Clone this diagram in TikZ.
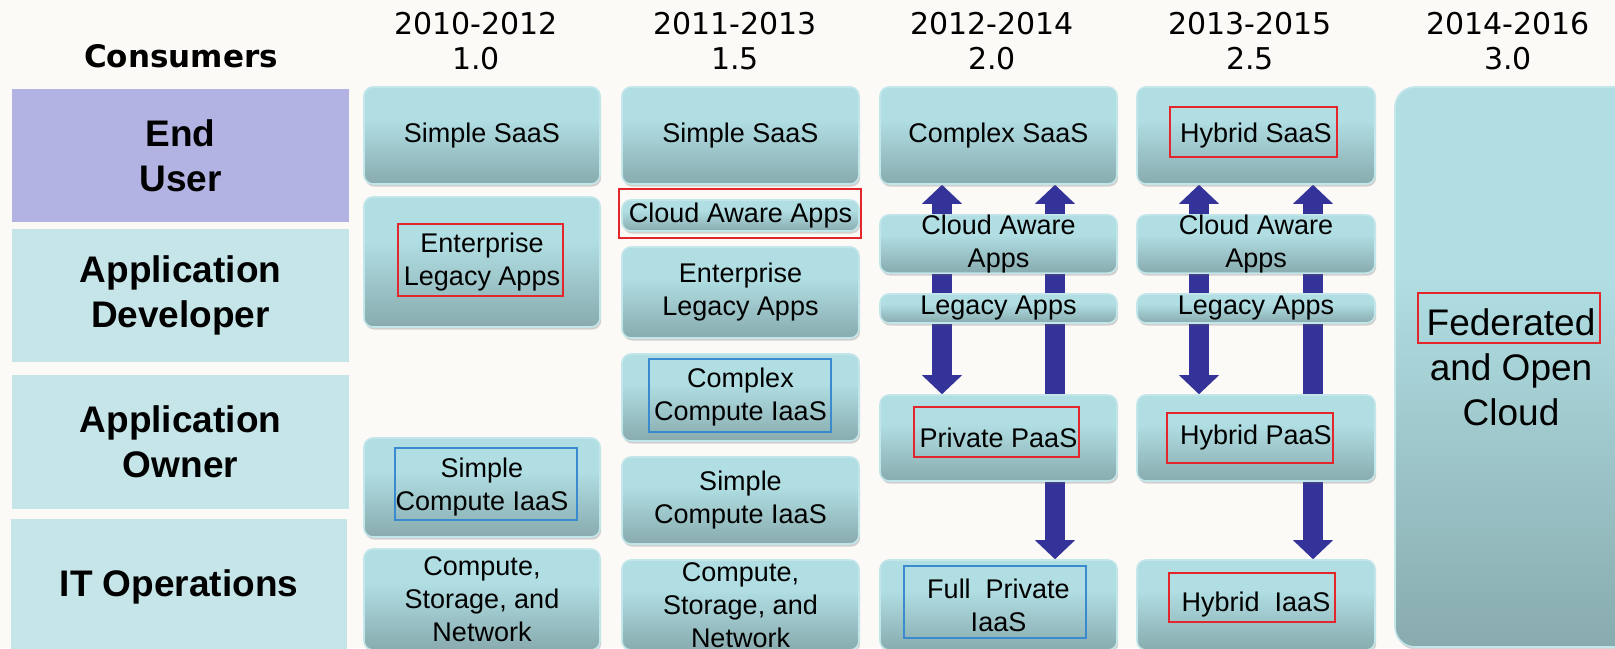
\documentclass[tikz,border=0pt]{standalone}
\usepackage{fontspec}
\setmainfont{Liberation Sans}
\newfontfamily\hdrfont{DejaVu Sans}
\usetikzlibrary{fit,shadows,arrows.meta}

\definecolor{pagebg}{HTML}{FCFAF7}
\definecolor{boxtop}{HTML}{B0DEE3}
\definecolor{boxbot}{HTML}{88ABAE}
\definecolor{boxedge}{HTML}{C3E6EA}
\definecolor{userfill}{HTML}{B3B3E3}
\definecolor{rolefill}{HTML}{C6E5E8}
\definecolor{arrowblue}{HTML}{333399}
\definecolor{markred}{HTML}{E3262B}
\definecolor{markblue}{HTML}{3A8AD0}

\pgfdeclareverticalshading{tealbox}{100bp}{color(0bp)=(boxbot); color(25bp)=(boxbot); color(58bp)=(boxtop); color(100bp)=(boxtop)}

\newcommand\boxtxt{\fontsize{13.5}{16.5}\selectfont}
\newcommand\roletxt{\fontsize{18.5}{22.5}\selectfont\bfseries}
\newcommand\hdrtxt{\hdrfont\fontsize{15}{17.75}\selectfont}
\newcommand\bigtxt{\fontsize{18.5}{22.5}\selectfont}

% a box given by its corners (in px), text centred inside
\newcommand\placebox[7][cbox]{%
  \pgfmathsetmacro\pbxc{(#3+#5)/2}%
  \pgfmathsetmacro\pbyc{(#4+#6)/2}%
  \pgfmathsetmacro\pbw{(#5-#3)/2}%
  \pgfmathsetmacro\pbh{(#6-#4)/2}%
  \node[#1, minimum width=\pbw pt, minimum height=\pbh pt] (#2) at (\pbxc,\pbyc) {#7};}

\pgfdeclarelayer{bg}
\pgfdeclarelayer{back}
\pgfsetlayers{bg,back,main}

\begin{document}
\begin{tikzpicture}[x=0.5pt,y=-0.5pt,
  cbox/.style={shading=tealbox, draw=boxedge, line width=0.8pt,
    rounded corners=4.5pt, inner sep=0pt, align=center, font=\boxtxt,
    drop shadow={shadow xshift=0.6pt, shadow yshift=-1.3pt, opacity=0.28, fill=black!60}},
  rolebox/.style={fill=rolefill, inner sep=0pt, align=center, font=\roletxt},
  redmark/.style={draw=markred, line width=0.6pt, inner sep=0pt},
  bluemark/.style={draw=markblue, line width=0.75pt, inner sep=0pt},
  hdr/.style={align=center, font=\hdrtxt, inner sep=0pt},
  fatarrow/.style={draw=arrowblue, line width=10pt,
    {Triangle[width=20pt,length=9.5pt,line width=0pt]}-{Triangle[width=20pt,length=9.5pt,line width=0pt]}}
]
\useasboundingbox (0,0) rectangle (1615,648);
\begin{pgfonlayer}{bg}
  \fill[pagebg] (0,0) rectangle (1615,648);
\end{pgfonlayer}

% column headings
\node[font=\hdrfont\fontsize{15.5}{18}\selectfont\bfseries, inner sep=0pt] (cons) at (181,56) {Consumers};
\node[hdr] (hdrA) at (476,41.3) {2010-2012\\1.0};
\node[hdr] (hdrB) at (735,41.3) {2011-2013\\1.5};
\node[hdr] (hdrC) at (992,41.3) {2012-2014\\2.0};
\node[hdr] (hdrD) at (1250,41.3) {2013-2015\\2.5};
\node[hdr] (hdrE) at (1508,41.3) {2014-2016\\3.0};

% consumer roles
\placebox[rolebox, fill=userfill]{rEnd}{12}{89}{349}{222}{End\\User}
\placebox[rolebox]{rDev}{12}{229}{349}{362}{Application\\Developer}
\placebox[rolebox]{rOwn}{12}{375}{349}{509}{Application\\Owner}
\placebox[rolebox]{rOps}{11}{519}{347}{655}{IT Operations}

% 1.0
\placebox{s1}{364}{87}{600}{184}{Simple SaaS}
\placebox{e1}{364}{197}{600}{327}{Enterprise\\Legacy Apps}
\placebox{c1}{364}{438}{600}{537}{Simple\\Compute IaaS}
\placebox{n1}{364}{549}{600}{650}{Compute,\\Storage, and\\Network}
\node[redmark, fit={(398,224) (563,296)}] (m1) {};
\node[bluemark, fit={(395,448) (577,520)}] (m2) {};

% 1.5
\placebox{s2}{622}{87}{859}{184}{Simple SaaS}
\placebox{w2}{622}{200}{859}{231}{Cloud Aware Apps}
\placebox{e2}{622}{247}{859}{338}{Enterprise\\Legacy Apps}
\placebox{x2}{622}{354}{859}{441}{Complex\\Compute IaaS}
\placebox{c2}{622}{457}{859}{544}{Simple\\Compute IaaS}
\placebox{n2}{622}{560}{859}{650}{Compute,\\Storage, and\\Network}
\node[redmark, fit={(619,189) (861,238)}] (m3) {};
\node[bluemark, fit={(649,359) (831,432)}] (m4) {};

% 2.0
\placebox{s3}{880}{87}{1117}{184}{Complex SaaS}
\placebox{w3}{880}{216}{1117}{272}{Cloud Aware\\Apps}
\placebox{l3}{880}{294}{1117}{323}{Legacy Apps}
\placebox{p3}{880}{395}{1117}{481}{Private PaaS}
\placebox{i3}{880}{560}{1117}{650}{Full~ Private\\IaaS}
\node[redmark, fit={(914,407) (1079,457)}] (m5) {};
\node[bluemark, fit={(904,566) (1086,638)}] (m6) {};

% 2.5
\placebox{s4}{1137}{87}{1375}{184}{Hybrid SaaS}
\placebox{w4}{1137}{216}{1375}{272}{Cloud Aware\\Apps}
\placebox{l4}{1137}{294}{1375}{323}{Legacy Apps}
\placebox{p4}{1137}{395}{1375}{481}{Hybrid PaaS}
\placebox{i4}{1137}{560}{1375}{650}{Hybrid~ IaaS}
\node[redmark, fit={(1170,107) (1337,157)}] (m7) {};
\node[redmark, fit={(1167,413) (1333,463)}] (m8) {};
\node[redmark, fit={(1169,573) (1335,622)}] (m9) {};

% 3.0
\placebox[cbox, rounded corners=10pt]{fed}{1395}{87}{1660}{647}{}
\node[align=center, font=\bigtxt, inner sep=0pt] (fedtxt) at (1511,367.5) {Federated\\and Open\\Cloud};
\node[redmark, fit={(1418,293) (1600,343)}] (m10) {};

% flows between layers, passing behind the boxes
\coordinate (ax1) at (942,0);
\coordinate (ax2) at (1055,0);
\coordinate (ax3) at (1199,0);
\coordinate (ax4) at (1313,0);
\begin{pgfonlayer}{back}
  \draw[fatarrow] (s3.south -| ax1) -- (p3.north -| ax1);
  \draw[fatarrow] (s3.south -| ax2) -- (i3.north -| ax2);
  \draw[fatarrow] (s4.south -| ax3) -- (p4.north -| ax3);
  \draw[fatarrow] (s4.south -| ax4) -- (i4.north -| ax4);
\end{pgfonlayer}
\end{tikzpicture}
\end{document}
